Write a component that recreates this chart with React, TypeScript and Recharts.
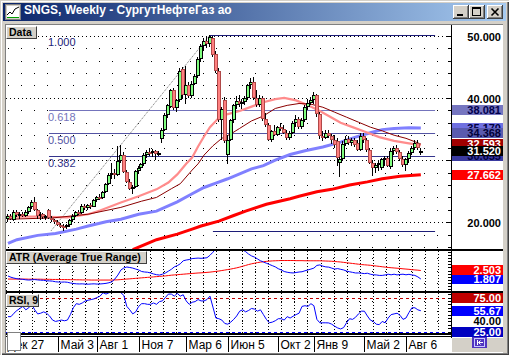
import React from 'react';
import { ComposedChart, Bar, Line, XAxis, YAxis, ReferenceLine } from 'recharts';

// weekly bars (index 0 = first visible week)
const opens = [
  20.5, 21.0, 20.4, 21.7, 21.1, 21.3, 21.0, 21.7, 22.4, 23.3,
  22.0, 21.0, 21.3, 20.8, 21.9, 20.7, 20.3, 20.0, 19.6, 19.4,
  19.2, 19.6, 20.3, 21.0, 21.6, 21.5, 22.7, 22.3, 22.8, 22.5,
  23.6, 24.1, 23.9, 24.9, 26.2, 27.6, 27.9, 27.6, 29.9, 30.8,
  28.1, 26.5, 25.4, 25.7, 28.2, 28.7, 29.3, 30.9, 31.3, 31.1,
  31.5, 31.0, 33.4, 34.9, 37.2, 38.6, 41.2, 38.3, 39.6, 44.6,
  40.4, 42.0, 40.3, 42.3, 43.6, 46.3, 48.3, 49.2, 48.6, 49.6,
  47.0, 44.4, 36.4, 39.6, 30.9, 33.3, 36.4, 38.8, 39.5, 39.0,
  39.4, 40.0, 42.0, 42.6, 40.0, 38.9, 40.0, 36.6, 35.7, 33.3,
  34.6, 34.1, 35.3, 35.0, 34.4, 33.6, 34.4, 36.0, 36.6, 35.3,
  36.5, 38.6, 39.2, 39.6, 40.4, 37.4, 33.9, 33.6, 34.3, 33.9,
  33.2, 33.0, 29.6, 30.2, 32.6, 33.4, 32.7, 33.2, 32.7, 31.7,
  33.8, 33.2, 31.6, 29.6, 28.8, 29.2, 28.7, 30.1, 30.4, 28.9,
  31.5, 31.9, 31.3, 30.2, 29.2, 30.1, 31.2, 31.9, 32.8, 31.1,
];
const highs = [
  21.4, 21.3, 21.9, 22.0, 21.6, 21.7, 21.9, 22.6, 23.6, 23.9,
  22.2, 21.6, 21.5, 21.2, 22.1, 21.0, 20.6, 20.3, 19.9, 19.7,
  19.8, 20.5, 21.3, 21.8, 22.0, 22.9, 23.0, 23.0, 23.1, 23.8,
  24.3, 24.6, 25.1, 26.4, 27.9, 29.5, 28.6, 32.2, 32.5, 31.3,
  28.4, 27.0, 26.0, 28.4, 29.0, 29.6, 31.1, 31.6, 31.9, 31.8,
  31.7, 31.5, 35.2, 37.5, 39.0, 41.5, 41.6, 39.8, 44.8, 45.0,
  45.2, 42.6, 42.7, 43.9, 46.5, 48.6, 49.6, 49.9, 50.1, 49.9,
  47.6, 44.8, 38.6, 40.2, 34.0, 36.6, 39.0, 40.3, 40.5, 39.8,
  40.3, 42.3, 43.2, 43.3, 41.3, 40.4, 40.3, 37.5, 36.0, 34.9,
  35.6, 35.5, 35.9, 35.7, 34.8, 34.7, 36.3, 37.2, 36.9, 36.8,
  38.8, 39.8, 40.1, 41.0, 40.6, 37.8, 34.6, 34.8, 34.9, 34.2,
  34.0, 33.5, 30.5, 33.1, 33.8, 33.8, 33.5, 33.6, 33.2, 34.3,
  34.4, 33.5, 32.0, 30.0, 29.6, 29.8, 30.4, 30.6, 30.6, 31.9,
  32.3, 32.4, 31.6, 30.6, 30.4, 31.4, 32.2, 33.3, 33.2, 32.0,
];
const lows = [
  20.0, 20.3, 20.2, 20.8, 20.6, 20.8, 20.9, 21.4, 22.2, 21.8,
  20.6, 20.4, 20.6, 20.4, 20.5, 20.1, 19.8, 19.4, 19.1, 18.64,
  18.9, 19.3, 20.1, 20.8, 21.2, 21.4, 22.0, 22.0, 22.2, 22.4,
  23.3, 23.6, 23.7, 24.7, 26.0, 27.0, 26.9, 27.4, 29.5, 27.9,
  26.3, 25.2, 24.6, 25.5, 27.8, 28.3, 29.0, 30.4, 30.6, 30.5,
  30.0, 30.6, 32.8, 34.6, 36.8, 38.3, 38.0, 37.8, 39.4, 40.0,
  39.0, 40.0, 40.0, 42.0, 43.2, 45.8, 47.5, 48.0, 48.2, 46.5,
  44.0, 36.2, 33.2, 32.8, 29.3, 33.0, 36.0, 38.2, 38.6, 38.2,
  38.9, 39.6, 41.5, 39.6, 38.5, 38.5, 36.3, 35.4, 33.0, 32.9,
  33.8, 33.9, 34.7, 34.2, 33.2, 33.3, 34.2, 35.4, 35.0, 35.0,
  36.2, 38.0, 38.8, 39.0, 37.0, 33.4, 33.0, 33.4, 33.6, 32.6,
  32.0, 29.0, 27.3, 29.8, 32.3, 32.4, 32.2, 32.1, 31.4, 31.5,
  32.8, 31.3, 29.3, 27.4, 28.0, 28.3, 28.4, 29.0, 28.9, 28.5,
  30.8, 31.0, 29.9, 28.9, 28.2, 29.6, 30.8, 31.6, 31.7, 30.9,
];
const closes = [
  21.0, 20.6, 21.7, 21.1, 21.3, 21.0, 21.7, 22.4, 23.2, 22.0,
  21.0, 21.3, 20.8, 21.0, 20.7, 20.3, 20.0, 19.6, 19.4, 19.2,
  19.6, 20.3, 21.0, 21.6, 21.5, 22.7, 22.3, 22.8, 22.5, 23.6,
  24.1, 23.9, 24.9, 26.2, 27.6, 27.9, 27.6, 29.9, 30.8, 28.1,
  26.5, 25.4, 25.7, 28.2, 28.7, 29.3, 30.9, 31.3, 31.1, 31.5,
  31.0, 31.2, 34.9, 37.2, 38.8, 41.2, 38.3, 39.6, 44.4, 40.4,
  42.0, 40.3, 42.3, 43.6, 46.3, 48.3, 49.2, 48.6, 49.8, 46.9,
  44.4, 36.4, 38.2, 33.0, 33.3, 36.4, 38.8, 39.5, 39.0, 39.4,
  40.0, 42.0, 42.6, 40.0, 38.9, 40.0, 36.6, 35.7, 33.3, 34.6,
  34.1, 35.3, 35.0, 34.4, 33.6, 34.4, 36.0, 36.6, 35.3, 36.5,
  38.6, 39.2, 39.6, 40.4, 37.4, 33.9, 33.6, 34.3, 33.9, 33.2,
  32.4, 30.3, 30.2, 32.6, 33.4, 32.7, 33.2, 32.5, 31.7, 33.8,
  33.2, 31.6, 29.6, 28.8, 29.2, 29.5, 30.1, 30.4, 29.1, 31.5,
  31.9, 31.3, 30.2, 29.2, 30.1, 31.2, 31.9, 32.8, 32.0, 31.52,
];

// moving averages, read at a few weeks each
const fastMaIdx = [0, 10, 20, 27, 31, 38, 44, 50, 54, 57, 60, 62, 64, 66, 68, 71, 74, 78, 82, 86, 90, 93, 97, 101, 105, 108, 112, 116, 120, 125, 130, 135, 139];
const fastMa = [20.9, 20.9, 20.8, 21.3, 21.9, 23.2, 24.2, 25.3, 26.4, 27.7, 29.4, 30.4, 32.2, 33.8, 35.3, 36.8, 37.4, 37.9, 38.6, 39.3, 39.8, 40.0, 39.6, 38.8, 37.9, 37.1, 36.0, 35.3, 34.6, 33.7, 33.1, 32.7, 32.4];
const midMaIdx = [0, 15, 27, 38, 45, 50, 55, 58, 62, 64, 66, 69, 72, 75, 78, 82, 86, 90, 94, 98, 102, 106, 110, 114, 118, 122, 126, 130, 134, 139];
const midMa = [20.5, 20.7, 21.3, 22.4, 23.4, 24.0, 25.4, 26.2, 28.4, 29.4, 30.8, 32.3, 33.5, 34.2, 35.1, 36.3, 37.1, 38.3, 38.8, 39.1, 39.0, 38.5, 37.7, 36.9, 36.1, 35.3, 34.7, 34.0, 33.5, 32.593];
const slowMaIdx = [0, 3, 10, 16, 23, 27, 33, 38, 44, 50, 57, 62, 66, 70, 74, 78, 82, 86, 90, 95, 100, 106, 112, 117, 122, 126, 130, 135, 139];
const slowMa = [16.6, 17.2, 17.9, 18.2, 18.9, 19.4, 20.1, 20.5, 21.3, 21.8, 23.3, 24.6, 25.6, 26.3, 27.0, 27.8, 28.6, 29.1, 30.0, 30.9, 31.5, 32.1, 32.9, 33.7, 34.4, 34.9, 35.1, 35.2, 35.17];
const longMaIdx = [42, 50, 57, 62, 65, 71, 76, 80, 87, 95, 98, 104, 109, 115, 121, 126, 132, 139];
const longMa = [15.6, 17.2, 18.1, 18.9, 19.4, 20.2, 21.1, 21.8, 22.9, 23.8, 24.2, 24.9, 25.3, 26.0, 26.5, 27.0, 27.4, 27.662];

const atrValues = [
  2.05, 1.95, 1.88, 1.83, 1.80, 1.78, 1.74, 1.72, 1.74, 1.76,
  1.73, 1.71, 1.70, 1.66, 1.65, 1.63, 1.58, 1.56, 1.55, 1.56,
  1.54, 1.48, 1.44, 1.41, 1.40, 1.41, 1.39, 1.38, 1.40, 1.41,
  1.39, 1.40, 1.42, 1.45, 1.50, 1.58, 1.81, 2.13, 2.54, 2.71,
  2.79, 2.75, 2.70, 2.62, 2.55, 2.42, 2.38, 2.36, 2.30, 2.22,
  2.16, 2.13, 2.20, 2.30, 2.45, 2.60, 2.80, 2.90, 3.05, 3.30,
  3.36, 3.40, 3.48, 3.50, 3.52, 3.50, 3.52, 3.55, 3.75, 4.00,
  4.30, 4.80, 5.00, 5.20, 5.10, 4.90, 4.70, 4.50, 4.30, 4.20,
  4.05, 3.85, 3.70, 3.60, 3.45, 3.30, 3.20, 3.10, 3.00, 2.90,
  2.80, 2.65, 2.55, 2.42, 2.36, 2.32, 2.30, 2.34, 2.38, 2.40,
  2.48, 2.55, 2.62, 2.70, 2.92, 2.96, 2.86, 2.80, 2.78, 2.70,
  2.62, 2.66, 2.60, 2.55, 2.46, 2.40, 2.35, 2.30, 2.30, 2.28,
  2.25, 2.28, 2.20, 2.15, 2.14, 2.10, 2.10, 2.14, 2.20, 2.15,
  2.20, 2.14, 2.18, 2.20, 2.15, 2.19, 2.14, 2.10, 1.98, 1.807,
];
const atrSignal = [
  1.80, 1.80, 1.80, 1.80, 1.80, 1.80, 1.80, 1.79, 1.79, 1.79,
  1.79, 1.79, 1.78, 1.78, 1.78, 1.77, 1.77, 1.77, 1.76, 1.76,
  1.76, 1.75, 1.75, 1.74, 1.74, 1.73, 1.73, 1.73, 1.72, 1.72,
  1.72, 1.72, 1.72, 1.72, 1.72, 1.72, 1.73, 1.74, 1.76, 1.78,
  1.80, 1.82, 1.84, 1.86, 1.88, 1.90, 1.92, 1.94, 1.96, 1.98,
  2.00, 2.02, 2.04, 2.06, 2.09, 2.12, 2.14, 2.16, 2.18, 2.20,
  2.22, 2.24, 2.26, 2.28, 2.30, 2.31, 2.33, 2.35, 2.37, 2.40,
  2.43, 2.46, 2.50, 2.54, 2.58, 2.62, 2.67, 2.72, 2.78, 2.85,
  2.92, 2.99, 3.05, 3.10, 3.15, 3.19, 3.22, 3.25, 3.27, 3.29,
  3.30, 3.31, 3.32, 3.32, 3.32, 3.32, 3.32, 3.31, 3.31, 3.31,
  3.30, 3.30, 3.30, 3.30, 3.30, 3.30, 3.29, 3.28, 3.27, 3.26,
  3.24, 3.22, 3.20, 3.17, 3.14, 3.11, 3.08, 3.05, 3.02, 2.99,
  2.97, 2.95, 2.93, 2.90, 2.87, 2.84, 2.81, 2.78, 2.75, 2.73,
  2.71, 2.69, 2.67, 2.64, 2.62, 2.60, 2.57, 2.55, 2.53, 2.503,
];
const rsiValues = [
  47, 47, 52, 56, 59, 62, 57, 60, 65, 57,
  51, 52, 54, 52, 48, 42, 40, 41, 42, 41,
  42, 50, 60, 66, 65, 67, 70, 71, 72, 73,
  75, 77, 82, 80, 82, 83, 84, 86, 82, 78,
  62, 57, 51, 54, 62, 66, 66, 65, 65, 67,
  65, 69, 70, 75, 80, 80, 77, 81, 77, 79,
  70, 65, 68, 69, 72, 70, 70, 72, 77, 61,
  45, 44, 42, 37, 36, 39, 43, 48, 55, 57,
  54, 56, 59, 58, 55, 57, 50, 43, 38, 39,
  41, 44, 44, 42, 47, 45, 47.6, 50, 52, 62,
  63, 62, 66, 63, 43, 38, 38, 38, 37.8, 36,
  33, 30.5, 29, 31, 38, 44, 43, 46, 51, 55,
  55, 48, 42, 40, 36, 35.3, 40, 38, 45, 50,
  51, 52, 49, 43, 45, 53, 60, 60, 57, 55.67,
];

const dateTickIdx = [-1, 17, 30, 44, 60, 74, 91, 103, 120, 134];
const dateTickLabels = ['Дек 27', 'Май 3', 'Авг 1', 'Ноя 7', 'Мар 6', 'Июн 5', 'Окт 2', 'Янв 9', 'Май 2', 'Авг 6'];

const priceTicks = [16, 18, 20, 22, 24, 26, 28, 30, 32, 34, 36, 38, 40, 42, 44, 46, 48, 50];
const atrTicks = [1.0, 1.25, 1.5, 1.75, 2.0, 2.25, 2.5, 2.75, 3.0, 3.25, 3.5, 3.75, 4.0];
const rsiTicks = [25, 30, 35, 40, 45, 50, 55, 60, 65, 70, 75, 80];

// fibonacci tool: swing low / high and the weeks it is anchored on
const fibLow = 18.635;
const fibHigh = 50.101;
const fibRatios = [1, 0.618, 0.5, 0.382, 0];
const fibFromIdx = [68, 13.8, 13.8, 13.8, 69];
const fibLabelIdx = 13.8;
const fibToIdx = 143.8;
const trendFromIdx = 14.5;
const trendToIdx = 68;

const FONT = '"Liberation Sans", Arial, sans-serif';
const X_MIN = -0.673;
const X_MAX = 149.16;
const PANEL_W = 497;
const AXIS_W = 52;
const P_DOMAIN = [15.71, 51.72];
const A_DOMAIN = [0.823, 4.101];
const R_DOMAIN = [23.1, 81.58];

const candles = opens.map((o, i) => ({ i, o, h: highs[i], l: lows[i], c: closes[i] }));
const indicators = atrValues.map((v, i) => ({ i, atr: v, sig: atrSignal[i], rsi: rsiValues[i] }));
const pts = (idx: number[], vals: number[]) => idx.map((i, k) => ({ i, v: vals[k] }));
const monthCols = Array.from({ length: 34 }, (_, k) => -0.6 + k * 4.41);
const fibPrice = (r: number) => fibLow + r * (fibHigh - fibLow);

const crisp = (p: any) => {
  const horiz = Math.abs(p.y1 - p.y2) < 0.01;
  const c = horiz
    ? { x1: p.x1, x2: p.x2, y1: Math.round(p.y1) + 0.5, y2: Math.round(p.y2) + 0.5 }
    : { x1: Math.round(p.x1) + 0.5, x2: Math.round(p.x2) + 0.5, y1: p.y1, y2: p.y2 };
  return <line {...c} stroke={p.stroke} strokeWidth={1} strokeDasharray={p.strokeDasharray} />;
};

const Candle = (props: any) => {
  const { x, y, width, height, payload } = props;
  if (!payload || y == null || isNaN(y)) return null;
  const top = Math.min(y, y + height);
  const span = Math.abs(height);
  const range = payload.h - payload.l;
  const toY = (v: number) => (range > 0 ? top + ((payload.h - v) / range) * span : top);
  const left = Math.round(x + (width || 0) / 2) - 2;
  const up = payload.c >= payload.o;
  const bTop = Math.round(toY(Math.max(payload.o, payload.c)));
  const bBot = Math.max(Math.round(toY(Math.min(payload.o, payload.c))), bTop + 2);
  return (
    <g>
      <rect x={left + 1} y={Math.round(top)} width={1} height={Math.max(1, Math.round(top + span) - Math.round(top))} fill="#000" />
      <rect x={left} y={bTop} width={4} height={bBot - bTop} fill={up ? '#000' : '#b04848'} />
      <rect x={left + 1} y={bTop + 1} width={2} height={Math.max(0, bBot - bTop - 2)} fill={up ? '#80ff80' : '#ff8080'} />
    </g>
  );
};

const Badge = ({ vb, text, fill, ink }: any) => {
  if (!vb) return null;
  const left = vb.x + vb.width + 1;
  const top = Math.round(vb.y) - 5;
  return (
    <g>
      <rect x={left} y={top} width={51} height={10} fill={fill} />
      <text x={left + 49} y={top + 9} textAnchor="end" fontSize={11} fontWeight="bold" fontFamily={FONT} fill={ink}>
        {text}
      </text>
    </g>
  );
};

const FibText = ({ vb, text, color }: any) => {
  if (!vb) return null;
  return (
    <text x={vb.x - 1} y={Math.round(vb.y) + 11} fontSize={11} fontFamily={FONT} fill={color}>
      {text}
    </text>
  );
};

const PriceTick = (props: any) => {
  const { x, y, payload } = props;
  const py = Math.round(y) + 0.5;
  const major = payload.value % 10 === 0;
  return (
    <g>
      <line x1={x - (major ? 5 : 3)} x2={x} y1={py} y2={py} stroke="#000" />
      {major && payload.value !== 30 && (
        <text x={x + 50} y={py + 4} textAnchor="end" fontSize={11} fontWeight="bold" fontFamily={FONT} fill="#000">
          {payload.value.toFixed(3)}
        </text>
      )}
    </g>
  );
};

const SmallTick = (props: any) => {
  const py = Math.round(props.y) + 0.5;
  return <line x1={props.x - 3} x2={props.x} y1={py} y2={py} stroke="#000" />;
};

const DateTick = (props: any) => {
  const { x, y, payload } = props;
  const k = dateTickIdx.indexOf(payload.value);
  const px = Math.round(x) + 0.5;
  return (
    <g>
      <line x1={px} x2={px} y1={y + 4} y2={y + 19} stroke="#000" />
      <text x={px + 2} y={y + 16} fontSize={12} fontFamily={FONT} fill="#000">
        {dateTickLabels[k]}
      </text>
    </g>
  );
};

const badge = (v: number, text: string, fill: string, ink: string, key: string) => (
  <ReferenceLine key={key} y={v} stroke="none" zIndex={2100} label={(p: any) => <Badge vb={p.viewBox} text={text} fill={fill} ink={ink} />} />
);

const fibColors = ['#1c1c78', '#7474bc', '#5454a4', '#34348c', '#1c1c78'];
const fibNames = ['1.000', '0.618', '0.500', '0.382', ''];

const Tag = ({ left, top, width, text }: any) => (
  <div
    style={{
      position: 'absolute', left, top, width, height: 13, boxSizing: 'border-box', background: '#d4d0c8',
      borderTop: '1px solid #fff', borderLeft: '1px solid #fff', borderRight: '1px solid #404040', borderBottom: '1px solid #404040',
      font: `bold 10.5px ${FONT}`, lineHeight: '11px', paddingLeft: 2, color: '#000', whiteSpace: 'nowrap',
    }}
  >
    {text}
  </div>
);

const btn = (left: number): React.CSSProperties => ({
  position: 'absolute', left, top: 5, width: 16, height: 14, background: '#d4d0c8',
  boxShadow: 'inset -1px -1px #404040, inset 1px 1px #ffffff, inset -2px -2px #808080',
});

const hline = (top: number, left: number, width: number, h: number) => (
  <div style={{ position: 'absolute', left, top, width, height: h, background: '#000' }} />
);

export default function App() {
  const last = closes.length - 1;
  return (
    <div style={{ position: 'absolute', left: 0, top: 0, width: 509, height: 355, background: '#d4d0c8', overflow: 'hidden', fontFamily: FONT, boxShadow: 'inset 1px 1px #d4d0c8, inset 2px 2px #ffffff, inset -1px -1px #404040, inset -2px -2px #808080' }}>
      {/* title bar */}
      <div style={{ position: 'absolute', left: 3, top: 3, width: 503, height: 18, background: 'linear-gradient(to right, #0a246a, #a6caf0)' }} />
      <svg style={{ position: 'absolute', left: 5, top: 4 }} width={16} height={16}>
        <rect x={0.5} y={0.5} width={15} height={15} fill="#d4d0c8" stroke="#808080" />
        <rect x={2} y={2} width={12} height={11} fill="#fff" />
        <polyline points="2,11 5,8 7,10 10,5 14,3" fill="none" stroke="#000" />
        <line x1={2} y1={13.5} x2={14} y2={13.5} stroke="#00a000" />
      </svg>
      <div style={{ position: 'absolute', left: 24, top: 3, height: 18, lineHeight: '18px', color: '#fff', font: `bold 12px ${FONT}`, whiteSpace: 'nowrap' }}>
        SNGS, Weekly - СургутНефтеГаз ао
      </div>
      <div style={btn(453)}>
        <div style={{ position: 'absolute', left: 4, top: 9, width: 6, height: 2, background: '#000' }} />
      </div>
      <div style={btn(469)}>
        <div style={{ position: 'absolute', left: 3, top: 2, width: 9, height: 9, boxSizing: 'border-box', border: '1px solid #000', borderTop: '2px solid #000' }} />
      </div>
      <div style={btn(487)}>
        <svg width={16} height={14} style={{ position: 'absolute', left: 0, top: 0 }}>
          <path d="M4.5 3.5 L11.5 10.5 M11.5 3.5 L4.5 10.5" stroke="#000" strokeWidth={1.6} />
        </svg>
      </div>

      {/* client area */}
      <div style={{ position: 'absolute', left: 5, top: 24, width: 498, height: 329, boxSizing: 'border-box', borderLeft: '1px solid #808080', borderTop: '1px solid #808080', background: '#fff' }} />

      {/* price panel */}
      <div style={{ position: 'absolute', left: 6, top: 25 }}>
        <ComposedChart width={PANEL_W} height={224} data={candles} margin={{ top: 0, right: 0, bottom: 0, left: 0 }}>
          <XAxis type="number" dataKey="i" domain={[X_MIN, X_MAX]} allowDataOverflow hide />
          <YAxis orientation="right" width={AXIS_W} domain={P_DOMAIN} allowDataOverflow ticks={priceTicks} interval={0} tickSize={0} tickMargin={0} axisLine={false} tickLine={false} tick={PriceTick} />
          {priceTicks.map((v) => (
            <ReferenceLine key={'g' + v} y={v} stroke="#000" strokeDasharray={v % 10 === 0 ? '1 3' : '1 12'} shape={crisp} zIndex={10} />
          ))}
          {fibRatios.map((r, k) => (
            <ReferenceLine key={'f' + k} segment={[{ x: fibFromIdx[k], y: fibPrice(r) }, { x: fibToIdx, y: fibPrice(r) }]} stroke={fibColors[k]} shape={crisp} zIndex={20} />
          ))}
          {fibRatios.map((r, k) =>
            fibNames[k] ? (
              <ReferenceLine key={'fl' + k} segment={[{ x: fibLabelIdx, y: fibPrice(r) }, { x: fibLabelIdx + 1, y: fibPrice(r) }]} stroke="none" zIndex={20} label={(p: any) => <FibText vb={p.viewBox} text={fibNames[k]} color={fibColors[k]} />} />
            ) : null
          )}
          <ReferenceLine segment={[{ x: trendFromIdx, y: fibLow }, { x: trendToIdx, y: fibHigh }]} stroke="#707070" strokeDasharray="1 1" zIndex={20} />
          <Line data={pts(longMaIdx, longMa)} dataKey="v" stroke="#ff0000" strokeWidth={3} dot={false} isAnimationActive={false} />
          <Line data={pts(slowMaIdx, slowMa)} dataKey="v" stroke="#8080ff" strokeWidth={3} dot={false} isAnimationActive={false} />
          <Line data={pts(fastMaIdx, fastMa)} dataKey="v" stroke="#ff8c8c" strokeWidth={2.2} dot={false} isAnimationActive={false} />
          <Line data={pts(midMaIdx, midMa)} dataKey="v" stroke="#8b0000" strokeWidth={1} dot={false} isAnimationActive={false} />
          <Bar dataKey={(d: any) => [d.l, d.h]} shape={Candle} barSize={3} isAnimationActive={false} zIndex={450} />
          {badge(slowMa[slowMa.length - 1], slowMa[slowMa.length - 1].toFixed(3), '#7070e0', '#000040', 'b1')}
          {badge(fibPrice(0.618), fibPrice(0.618).toFixed(3), '#7676c0', '#00004c', 'b2')}
          {badge(fibPrice(0.5), fibPrice(0.5).toFixed(3), '#5a5aae', '#000038', 'b3')}
          {badge(midMa[midMa.length - 1], midMa[midMa.length - 1].toFixed(3), '#a00000', '#ffffff', 'b4')}
          {badge(fibPrice(0.382), fibPrice(0.382).toFixed(3), '#3a3aa0', '#000040', 'b5')}
          {badge(closes[last], closes[last].toFixed(3), '#000000', '#ffffff', 'b6')}
          {badge(longMa[longMa.length - 1], longMa[longMa.length - 1].toFixed(3), '#ff0000', '#ffffff', 'b7')}
        </ComposedChart>
      </div>

      {/* ATR panel */}
      <div style={{ position: 'absolute', left: 6, top: 251 }}>
        <ComposedChart width={PANEL_W} height={40} data={indicators} margin={{ top: 0, right: 0, bottom: 0, left: 0 }}>
          <XAxis type="number" dataKey="i" domain={[X_MIN, X_MAX]} allowDataOverflow hide />
          <YAxis orientation="right" width={AXIS_W} domain={A_DOMAIN} allowDataOverflow ticks={atrTicks} interval={0} tickSize={0} tickMargin={0} axisLine={false} tickLine={false} tick={SmallTick} />
          {monthCols.map((x, k) => (
            <ReferenceLine key={'m' + k} x={x} stroke="#000" strokeDasharray="1 2" shape={crisp} zIndex={10} />
          ))}
          {[1.5, 2.5, 3.5].map((v) => (
            <ReferenceLine key={'ag' + v} y={v} stroke="#000" strokeDasharray="1 12" shape={crisp} zIndex={10} />
          ))}
          <Line dataKey="sig" stroke="#ff0000" strokeWidth={1} dot={false} isAnimationActive={false} />
          <Line dataKey="atr" stroke="#0000ff" strokeWidth={1} dot={false} isAnimationActive={false} />
          {badge(atrValues[last], atrValues[last].toFixed(3), '#0000ff', '#ffffff', 'a1')}
          {badge(atrSignal[last], atrSignal[last].toFixed(3), '#ff0000', '#ffffff', 'a2')}
        </ComposedChart>
      </div>

      {/* RSI panel + date axis */}
      <div style={{ position: 'absolute', left: 6, top: 293 }}>
        <ComposedChart width={PANEL_W} height={59} data={indicators} margin={{ top: 0, right: 0, bottom: 0, left: 0 }}>
          <XAxis type="number" dataKey="i" domain={[X_MIN, X_MAX]} allowDataOverflow ticks={dateTickIdx} interval={0} height={19} tickSize={0} tickMargin={0} axisLine={false} tickLine={false} tick={DateTick} />
          <YAxis orientation="right" width={AXIS_W} domain={R_DOMAIN} allowDataOverflow ticks={rsiTicks} interval={0} tickSize={0} tickMargin={0} axisLine={false} tickLine={false} tick={SmallTick} />
          {monthCols.map((x, k) => (
            <ReferenceLine key={'m' + k} x={x} stroke="#000" strokeDasharray="1 2" shape={crisp} zIndex={10} />
          ))}
          {[40, 55, 70].map((v) => (
            <ReferenceLine key={'rg' + v} y={v} stroke="#000" strokeDasharray="1 12" shape={crisp} zIndex={10} />
          ))}
          <ReferenceLine y={75} stroke="#c00000" strokeDasharray="3 3" shape={crisp} zIndex={20} />
          <ReferenceLine y={25} stroke="#0000ff" strokeDasharray="3 3" shape={crisp} zIndex={20} />
          <Line dataKey="rsi" stroke="#0000ff" strokeWidth={1} dot={false} isAnimationActive={false} />
          {badge(75, '75.00', '#c00000', '#ffffff', 'r1')}
          {badge(rsiValues[last], rsiValues[last].toFixed(2), '#0000ff', '#ffffff', 'r2')}
          {badge(40, '40.00', '#ffffff', '#000000', 'r3')}
          {badge(25, '25.00', '#0000c0', '#ffffff', 'r4')}
        </ComposedChart>
      </div>

      {/* panel borders and separator */}
      {hline(249, 6, 497, 2)}
      {hline(291, 6, 497, 2)}
      {hline(333, 6, 446, 2)}
      {hline(336, 6, 446, 1)}
      <div style={{ position: 'absolute', left: 451, top: 25, width: 1, height: 313, background: '#000' }} />
      <div style={{ position: 'absolute', left: 452, top: 338, width: 51, height: 14, background: '#d4d0c8' }} />
      <svg style={{ position: 'absolute', left: 472, top: 337 }} width={15} height={11}>
        <rect x={0} y={0} width={15} height={11} fill="#5034c0" />
        <rect x={2.5} y={1.5} width={10} height={8} fill="none" stroke="#c8c8ff" />
        <path d="M5.5 3 V8 M11 5.5 H6.5 M8.5 3.5 L6.5 5.5 L8.5 7.5" stroke="#ffffff" fill="none" />
      </svg>

      <Tag left={6} top={26} width={31} text="Data" />
      <Tag left={6} top={251} width={141} text="ATR (Average True Range)" />
      <Tag left={6} top={294} width={33} text="RSI, 9" />
      <div style={{ position: 'absolute', left: 7, top: 332, width: 14, height: 19, boxSizing: 'border-box', background: '#fff', border: '1px solid #808080' }} />
    </div>
  );
}
